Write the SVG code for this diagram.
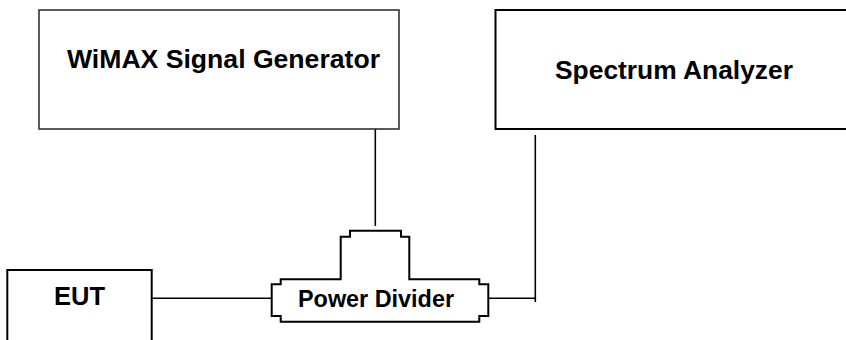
<svg xmlns="http://www.w3.org/2000/svg" width="846" height="340" viewBox="0 0 846 340">
<style>
.box{fill:#fff;stroke:#000;stroke-width:2}
.lbl{font-family:"Liberation Sans",Arial,sans-serif;font-weight:bold;fill:#000}
.wire{fill:none;stroke:#000;stroke-width:1.6}
</style>
<rect width="846" height="340" fill="#fff"/>
<g id="connectors">
<line class="wire" x1="375.3" y1="129" x2="375.3" y2="226"/>
<line class="wire" x1="151.7" y1="298.3" x2="271.7" y2="298.3"/>
<line class="wire" x1="488.3" y1="298.3" x2="535.3" y2="298.3"/>
<line class="wire" x1="535.3" y1="135" x2="535.3" y2="302"/>
</g>
<g id="generator">
<rect class="box" x="39" y="10" width="360" height="119" style="stroke:#333;stroke-width:1.6"/>
<text class="lbl" x="67" y="68" font-size="26" textLength="313" lengthAdjust="spacingAndGlyphs">WiMAX Signal Generator</text>
</g>
<g id="analyzer">
<rect class="box" x="495.5" y="10" width="370" height="119"/>
<text class="lbl" x="555" y="79" font-size="26" textLength="238" lengthAdjust="spacingAndGlyphs">Spectrum Analyzer</text>
</g>
<g id="eut">
<rect class="box" x="7.3" y="270" width="144.4" height="90"/>
<text class="lbl" x="54" y="305" font-size="25.5" textLength="51" lengthAdjust="spacingAndGlyphs">EUT</text>
</g>
<g id="divider">
<path class="box" stroke-width="2.4" d="M350,230.7 H401 V236.7 H409.3 V279.3 H479.3 V284.3 H488.3 V316 H479.3 V321.7 H280.7 V316 H271.7 V284.3 H280.7 V279.3 H340.7 V236.7 H350 Z"/>
<text class="lbl" x="298" y="307.3" font-size="23.3" textLength="156" lengthAdjust="spacingAndGlyphs">Power Divider</text>
</g>
</svg>
